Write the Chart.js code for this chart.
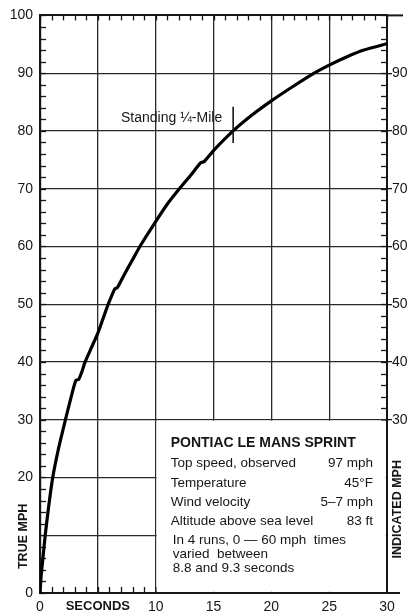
<!DOCTYPE html>
<html>
<head>
<meta charset="utf-8">
<script src="https://cdn.jsdelivr.net/npm/chart.js@4"></script>
<style>
html,body{margin:0;padding:0;background:#fff;}
#wrap{width:412px;height:616px;position:relative;}
</style>
</head>
<body>
<div id="wrap"><canvas id="c"></canvas></div>
<script>
// ---- data ----
const seconds = [0, 0.1, 0.25, 0.45, 0.75, 1.1, 1.6, 2.2, 2.7, 3.1, 3.35, 3.6, 3.9, 4.45, 5.0, 5.45, 5.9, 6.45, 6.7, 7.2, 8.0, 8.7, 10.0, 11.0, 12.1, 13.1, 13.9, 14.2, 15.0, 16.7, 18.3, 20.0, 21.8, 23.7, 25.0, 26.5, 28.0, 30.0];
const trueMph = [0, 3, 6, 10, 15, 20, 25, 30, 34, 36.8, 37.0, 38.2, 40, 42.5, 45, 47.5, 50, 52.6, 52.9, 54.8, 57.7, 60.2, 64.3, 67.3, 70.1, 72.5, 74.5, 74.7, 76.6, 80, 82.7, 85.2, 87.6, 90, 91.4, 92.8, 94.0, 95.1];
const xTickValues = [0, 5, 10, 15, 20, 25, 30];
const xTickLabels = ['0', 'SECONDS', '10', '15', '20', '25', '30'];
const leftTickValues = [0, 20, 30, 40, 50, 60, 70, 80, 90, 100];
const leftTickLabels = ['0', '20', '30', '40', '50', '60', '70', '80', '90', '100'];
const rightTickValues = [30, 40, 50, 60, 70, 80, 90];
const rightTickLabels = ['30', '40', '50', '60', '70', '80', '90'];
const quarterMileTime = 16.7;
const quarterMileSpeed = 80;
const infoTitle = 'PONTIAC LE MANS SPRINT';
const infoRows = [['Top speed, observed', '97 mph'], ['Temperature', '45°F'], ['Wind velocity', '5–7 mph'], ['Altitude above sea level', '83 ft']];
const infoNote = ['In 4 runs, 0 — 60 mph  times', 'varied  between', '8.8 and 9.3 seconds'];

const FONT = "'Liberation Sans', Arial, sans-serif";
const INK = '#161616';

function labelFor(values, labels, v){
  const i = values.findIndex(t => Math.abs(t - v) < 1e-6);
  return i >= 0 ? labels[i] : '';
}

const overlay = {
  id: 'overlay',
  beforeDatasetsDraw(chart){
    const {ctx, chartArea: a, scales} = chart;
    const x = scales.x, y = scales.y;
    ctx.save();
    ctx.strokeStyle = INK;
    ctx.lineWidth = 1.3;
    for (let v = 0; v <= 100; v += 2){
      const py = Math.round(y.getPixelForValue(v)) + 0.5;
      ctx.beginPath(); ctx.moveTo(a.left, py); ctx.lineTo(a.left + 6, py); ctx.stroke();
    }
    for (let v = 30; v <= 100; v += 2){
      const py = Math.round(y.getPixelForValue(v)) + 0.5;
      ctx.beginPath(); ctx.moveTo(a.right - 6, py); ctx.lineTo(a.right, py); ctx.stroke();
    }
    for (let t = 0; t <= 30; t += 1){
      const px = Math.round(x.getPixelForValue(t)) + 0.5;
      ctx.beginPath(); ctx.moveTo(px, a.top); ctx.lineTo(px, a.top + 5); ctx.stroke();
    }
    for (let t = 0; t <= 10; t += 1){
      const px = Math.round(x.getPixelForValue(t)) + 0.5;
      ctx.beginPath(); ctx.moveTo(px, a.bottom); ctx.lineTo(px, a.bottom - 6); ctx.stroke();
    }
    const bx = x.getPixelForValue(10), by = y.getPixelForValue(30);
    ctx.fillStyle = '#fff';
    ctx.fillRect(bx + 0.9, by + 0.9, (a.right - 1.2) - (bx + 0.9), (a.bottom - 1.2) - (by + 0.9));
    ctx.fillStyle = INK;
    ctx.textBaseline = 'middle';
    ctx.textAlign = 'left';
    ctx.font = "bold 14px " + FONT;
    ctx.fillText(infoTitle, bx + 15, by + 23);
    ctx.font = "13.5px " + FONT;
    const rowY = [44, 64, 83, 102];
    infoRows.forEach((r, i) => {
      ctx.textAlign = 'left';
      ctx.fillText(r[0], bx + 15, by + rowY[i]);
      ctx.textAlign = 'right';
      ctx.fillText(r[1], a.right - 14, by + rowY[i]);
    });
    ctx.textAlign = 'left';
    const noteY = [121, 135, 149];
    infoNote.forEach((s, i) => ctx.fillText(s, bx + 17, by + noteY[i]));
    ctx.restore();
  },
  afterDraw(chart){
    const {ctx, chartArea: a, scales} = chart;
    const x = scales.x, y = scales.y;
    ctx.save();
    ctx.strokeStyle = INK;
    ctx.lineWidth = 2;
    ctx.beginPath(); ctx.moveTo(a.right, a.top); ctx.lineTo(a.right + 16, a.top); ctx.stroke();
    ctx.beginPath(); ctx.moveTo(a.right, a.bottom); ctx.lineTo(a.right + 13, a.bottom); ctx.stroke();
    const mx = x.getPixelForValue(quarterMileTime);
    ctx.lineWidth = 1.6;
    ctx.beginPath();
    ctx.moveTo(mx, y.getPixelForValue(quarterMileSpeed + 4.2));
    ctx.lineTo(mx, y.getPixelForValue(quarterMileSpeed - 2.1));
    ctx.stroke();
    ctx.fillStyle = INK;
    ctx.font = "14px " + FONT;
    ctx.textAlign = 'right';
    ctx.textBaseline = 'middle';
    ctx.fillText('Standing ¼-Mile', x.getPixelForValue(15.75), y.getPixelForValue(82.2));
    ctx.font = "bold 12.5px " + FONT;
    ctx.textAlign = 'center';
    ctx.save();
    ctx.translate(24, y.getPixelForValue(9.8));
    ctx.rotate(-Math.PI / 2);
    ctx.fillText('TRUE MPH', 0, 0);
    ctx.restore();
    ctx.save();
    ctx.translate(a.right + 11, y.getPixelForValue(14.5));
    ctx.rotate(-Math.PI / 2);
    ctx.fillText('INDICATED MPH', 0, 0);
    ctx.restore();
    ctx.restore();
  }
};

const points = seconds.map((t, i) => ({x: t, y: trueMph[i]}));

new Chart(document.getElementById('c'), {
  type: 'line',
  data: {
    datasets: [{
      data: points,
      borderColor: '#000',
      borderWidth: 3.2,
      pointRadius: 0,
      fill: false,
      tension: 0.2,
      borderCapStyle: 'round',
      borderJoinStyle: 'round'
    }]
  },
  options: {
    responsive: true,
    maintainAspectRatio: false,
    animation: false,
    layout: {padding: {top: 13, left: 0, right: 0, bottom: 0}},
    plugins: {legend: {display: false}, tooltip: {enabled: false}},
    scales: {
      x: {
        type: 'linear', position: 'bottom', min: 0, max: 30,
        afterFit(s){ s.height = 23; },
        border: {display: true, color: INK, width: 2},
        grid: {
          drawTicks: false,
          color: c => (c.tick && c.tick.value % 5 === 0 && c.tick.value > 0 && c.tick.value < 30) ? '#2a2a2a' : 'rgba(0,0,0,0)',
          lineWidth: 1.3
        },
        ticks: {
          stepSize: 1, autoSkip: false, maxRotation: 0, padding: 6,
          color: INK,
          font: c => (c.tick && c.tick.value === 5) ? {family: FONT, size: 13, weight: 'bold'} : {family: FONT, size: 14},
          callback: v => labelFor(xTickValues, xTickLabels, v)
        }
      },
      xTop: {
        type: 'linear', position: 'top', min: 0, max: 30,
        afterFit(s){ s.height = 0; },
        border: {display: true, color: INK, width: 2},
        grid: {drawOnChartArea: false, drawTicks: false},
        ticks: {display: false}
      },
      y: {
        type: 'linear', position: 'left', min: 0, max: 100,
        afterFit(s){ s.width = 40; },
        border: {display: true, color: INK, width: 2.2},
        grid: {
          drawTicks: false,
          color: c => (c.tick && c.tick.value % 10 === 0 && c.tick.value > 0 && c.tick.value < 100) ? '#2a2a2a' : 'rgba(0,0,0,0)',
          lineWidth: 1.3
        },
        ticks: {
          stepSize: 2, autoSkip: false, padding: 7, color: INK,
          font: {family: FONT, size: 14},
          callback: v => labelFor(leftTickValues, leftTickLabels, v)
        }
      },
      y2: {
        type: 'linear', position: 'right', min: 0, max: 100,
        afterFit(s){ s.width = 25; },
        border: {display: true, color: INK, width: 2},
        grid: {
          drawOnChartArea: false, drawTicks: true, tickLength: 5, lineWidth: 1.3,
          tickColor: c => (c.tick && rightTickValues.includes(c.tick.value)) ? INK : 'rgba(0,0,0,0)'
        },
        ticks: {
          stepSize: 2, autoSkip: false, padding: 0, color: INK,
          font: {family: FONT, size: 14},
          callback: v => labelFor(rightTickValues, rightTickLabels, v)
        }
      }
    }
  },
  plugins: [overlay]
});
</script>
</body>
</html>
